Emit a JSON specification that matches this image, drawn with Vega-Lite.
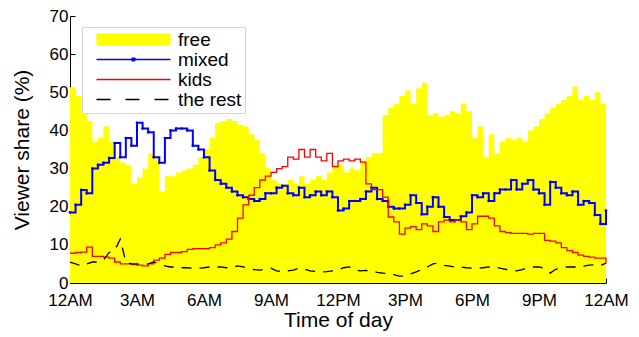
{
  "$schema": "https://vega.github.io/schema/vega-lite/v6.json",
  "width": 536,
  "height": 267,
  "autosize": "none",
  "padding": {"left": 70, "top": 16, "right": 33, "bottom": 54},
  "background": "white",
  "config": {
    "view": {"stroke": null},
    "font": "Liberation Sans",
    "axis": {
      "grid": false,
      "domainColor": "black",
      "domainWidth": 1,
      "tickColor": "black",
      "tickSize": -5,
      "labelColor": "black",
      "labelFont": "Liberation Sans",
      "labelFontSize": 17,
      "titleFont": "Liberation Sans",
      "titleFontSize": 21,
      "titleFontWeight": "normal",
      "titleColor": "black"
    },
    "legend": {
      "labelFont": "Liberation Sans",
      "labelFontSize": 19,
      "labelColor": "black"
    }
  },
  "data": {
    "values": [
      {"t": 0, "free": 51.3, "mixed": 18.5, "kids": 7.8, "rest": 5.5},
      {"t": 0.25, "free": 49, "mixed": 20.5, "kids": 8, "rest": 5},
      {"t": 0.5, "free": 45, "mixed": 24.4, "kids": 8.1, "rest": 4.5},
      {"t": 0.75, "free": 42.5, "mixed": 23.5, "kids": 9.4, "rest": 5},
      {"t": 1, "free": 37, "mixed": 30, "kids": 7, "rest": 5.5},
      {"t": 1.25, "free": 38, "mixed": 31, "kids": 7, "rest": 5.5},
      {"t": 1.5, "free": 41, "mixed": 31.5, "kids": 6.8, "rest": 6},
      {"t": 1.75, "free": 37, "mixed": 32.8, "kids": 6.5, "rest": 8},
      {"t": 2, "free": 33, "mixed": 36.7, "kids": 5.5, "rest": 8.5},
      {"t": 2.25, "free": 31.5, "mixed": 33, "kids": 5, "rest": 11.5},
      {"t": 2.5, "free": 31, "mixed": 38, "kids": 5, "rest": 5.5},
      {"t": 2.75, "free": 26, "mixed": 36, "kids": 4.8, "rest": 5},
      {"t": 3, "free": 27.5, "mixed": 42, "kids": 4.7, "rest": 5},
      {"t": 3.25, "free": 30, "mixed": 40.5, "kids": 4.5, "rest": 4.8},
      {"t": 3.5, "free": 34, "mixed": 39.5, "kids": 5, "rest": 5},
      {"t": 3.75, "free": 33, "mixed": 33, "kids": 6, "rest": 5.5},
      {"t": 4, "free": 24, "mixed": 31.5, "kids": 6.5, "rest": 5},
      {"t": 4.25, "free": 28, "mixed": 38, "kids": 7.5, "rest": 4.5},
      {"t": 4.5, "free": 28, "mixed": 40, "kids": 8, "rest": 4.2},
      {"t": 4.75, "free": 29, "mixed": 40.5, "kids": 8, "rest": 4.2},
      {"t": 5, "free": 29.5, "mixed": 40.5, "kids": 8.2, "rest": 4},
      {"t": 5.25, "free": 30, "mixed": 40, "kids": 8.8, "rest": 4},
      {"t": 5.5, "free": 31, "mixed": 36, "kids": 9, "rest": 3.9},
      {"t": 5.75, "free": 33, "mixed": 35, "kids": 9, "rest": 3.9},
      {"t": 6, "free": 35, "mixed": 33, "kids": 9, "rest": 4},
      {"t": 6.25, "free": 38, "mixed": 29.5, "kids": 9.3, "rest": 4.2},
      {"t": 6.5, "free": 42, "mixed": 27, "kids": 10, "rest": 4.2},
      {"t": 6.75, "free": 42.5, "mixed": 26, "kids": 10.5, "rest": 4.2},
      {"t": 7, "free": 43, "mixed": 25, "kids": 11.5, "rest": 4},
      {"t": 7.25, "free": 42.5, "mixed": 24, "kids": 13.5, "rest": 4},
      {"t": 7.5, "free": 41.5, "mixed": 23, "kids": 17, "rest": 4.5},
      {"t": 7.75, "free": 41, "mixed": 22.5, "kids": 20.5, "rest": 4.2},
      {"t": 8, "free": 39, "mixed": 22, "kids": 23, "rest": 3.8},
      {"t": 8.25, "free": 37.5, "mixed": 21.5, "kids": 25, "rest": 3.5},
      {"t": 8.5, "free": 34, "mixed": 22, "kids": 27, "rest": 3.4},
      {"t": 8.75, "free": 30, "mixed": 23.5, "kids": 28, "rest": 3.6},
      {"t": 9, "free": 27, "mixed": 23.5, "kids": 29, "rest": 3.9},
      {"t": 9.25, "free": 26, "mixed": 25, "kids": 30, "rest": 3.2},
      {"t": 9.5, "free": 26, "mixed": 25.5, "kids": 30.5, "rest": 3},
      {"t": 9.75, "free": 27, "mixed": 23.5, "kids": 33, "rest": 3.2},
      {"t": 10, "free": 26, "mixed": 23, "kids": 32.5, "rest": 3.4},
      {"t": 10.25, "free": 28, "mixed": 25, "kids": 35, "rest": 3.9},
      {"t": 10.5, "free": 26, "mixed": 22.5, "kids": 33, "rest": 3.6},
      {"t": 10.75, "free": 27, "mixed": 23, "kids": 35, "rest": 3.2},
      {"t": 11, "free": 28, "mixed": 24, "kids": 33, "rest": 3},
      {"t": 11.25, "free": 27, "mixed": 23, "kids": 32, "rest": 2.9},
      {"t": 11.5, "free": 29, "mixed": 24, "kids": 34, "rest": 3},
      {"t": 11.75, "free": 31, "mixed": 22.5, "kids": 30.5, "rest": 3.2},
      {"t": 12, "free": 31, "mixed": 19, "kids": 32, "rest": 3.4},
      {"t": 12.25, "free": 29, "mixed": 19.5, "kids": 32.5, "rest": 4},
      {"t": 12.5, "free": 30, "mixed": 21.5, "kids": 32, "rest": 4.2},
      {"t": 12.75, "free": 29.5, "mixed": 21.5, "kids": 32.5, "rest": 3.4},
      {"t": 13, "free": 32, "mixed": 22, "kids": 31.7, "rest": 3.2},
      {"t": 13.25, "free": 33, "mixed": 24, "kids": 26, "rest": 3.3},
      {"t": 13.5, "free": 34, "mixed": 25, "kids": 24.5, "rest": 3.2},
      {"t": 13.75, "free": 34, "mixed": 22, "kids": 24.5, "rest": 2.8},
      {"t": 14, "free": 44, "mixed": 21.5, "kids": 22.5, "rest": 2.6},
      {"t": 14.25, "free": 46, "mixed": 20, "kids": 17.3, "rest": 2.4},
      {"t": 14.5, "free": 47, "mixed": 19.5, "kids": 16, "rest": 2.2},
      {"t": 14.75, "free": 49, "mixed": 19.5, "kids": 12.8, "rest": 1.8},
      {"t": 15, "free": 50.5, "mixed": 20.5, "kids": 14.4, "rest": 1.8},
      {"t": 15.25, "free": 47, "mixed": 23, "kids": 14.8, "rest": 2.4},
      {"t": 15.5, "free": 51, "mixed": 21, "kids": 14, "rest": 2.9},
      {"t": 15.75, "free": 52.5, "mixed": 18, "kids": 15.5, "rest": 3.5},
      {"t": 16, "free": 44, "mixed": 20, "kids": 15, "rest": 4.2},
      {"t": 16.25, "free": 44.5, "mixed": 22.5, "kids": 13.5, "rest": 5},
      {"t": 16.5, "free": 43.5, "mixed": 20, "kids": 16, "rest": 5.2},
      {"t": 16.75, "free": 44, "mixed": 17.3, "kids": 16.5, "rest": 4.6},
      {"t": 17, "free": 45, "mixed": 16.5, "kids": 16, "rest": 4.4},
      {"t": 17.25, "free": 44.5, "mixed": 16.5, "kids": 16.5, "rest": 4.2},
      {"t": 17.5, "free": 47, "mixed": 17.5, "kids": 16, "rest": 4.2},
      {"t": 17.75, "free": 45, "mixed": 18.5, "kids": 14, "rest": 4},
      {"t": 18, "free": 38, "mixed": 23, "kids": 15.5, "rest": 3.9},
      {"t": 18.25, "free": 41, "mixed": 22.5, "kids": 17.5, "rest": 3.9},
      {"t": 18.5, "free": 33, "mixed": 23.5, "kids": 17.5, "rest": 4},
      {"t": 18.75, "free": 39, "mixed": 21.5, "kids": 17, "rest": 4.2},
      {"t": 19, "free": 34, "mixed": 23.5, "kids": 15, "rest": 4.2},
      {"t": 19.25, "free": 37, "mixed": 24.5, "kids": 13.5, "rest": 3.9},
      {"t": 19.5, "free": 38, "mixed": 24.5, "kids": 13.2, "rest": 3.6},
      {"t": 19.75, "free": 37.5, "mixed": 27, "kids": 13, "rest": 3.4},
      {"t": 20, "free": 38, "mixed": 24.5, "kids": 13, "rest": 3.2},
      {"t": 20.25, "free": 37, "mixed": 26, "kids": 13, "rest": 3.5},
      {"t": 20.5, "free": 40, "mixed": 27, "kids": 12.8, "rest": 4},
      {"t": 20.75, "free": 41, "mixed": 24.5, "kids": 13, "rest": 4.2},
      {"t": 21, "free": 43, "mixed": 23.5, "kids": 13, "rest": 4.2},
      {"t": 21.25, "free": 44.5, "mixed": 20.5, "kids": 11.2, "rest": 3.8},
      {"t": 21.5, "free": 46, "mixed": 26.5, "kids": 11, "rest": 2.6},
      {"t": 21.75, "free": 47, "mixed": 25, "kids": 10.5, "rest": 3.6},
      {"t": 22, "free": 48, "mixed": 23.5, "kids": 9.3, "rest": 3.9},
      {"t": 22.25, "free": 49, "mixed": 23, "kids": 8.5, "rest": 4.2},
      {"t": 22.5, "free": 51.5, "mixed": 24, "kids": 8, "rest": 4.2},
      {"t": 22.75, "free": 48, "mixed": 20.5, "kids": 7.3, "rest": 4.2},
      {"t": 23, "free": 49, "mixed": 21.5, "kids": 7, "rest": 4.4},
      {"t": 23.25, "free": 48, "mixed": 21, "kids": 6.8, "rest": 4.7},
      {"t": 23.5, "free": 50, "mixed": 17.8, "kids": 6.5, "rest": 4.8},
      {"t": 23.75, "free": 47, "mixed": 15.5, "kids": 6.5, "rest": 4.6},
      {"t": 24, "free": 37, "mixed": 19, "kids": 5.2, "rest": 5.2}
    ]
  },
  "encoding": {
    "x": {
      "field": "t",
      "type": "quantitative",
      "scale": {"domain": [0, 24], "nice": false, "zero": false},
      "axis": {
        "title": "Time of day",
        "values": [0, 3, 6, 9, 12, 15, 18, 21, 24],
        "labelExpr": "['12AM','3AM','6AM','9AM','12PM','3PM','6PM','9PM','12AM'][round(datum.value/3)]",
        "labelFlush": false,
        "labelOverlap": false,
        "labelPadding": 14,
        "titlePadding": 1
      }
    },
    "y": {
      "field": "v",
      "type": "quantitative",
      "scale": {"domain": [0, 70], "nice": false},
      "axis": {
        "title": "Viewer share (%)",
        "values": [0, 10, 20, 30, 40, 50, 60, 70],
        "labelPadding": 7,
        "titlePadding": 17
      }
    },
    "color": {
      "field": "series",
      "type": "nominal",
      "scale": {
        "domain": ["free", "mixed", "kids", "the rest"],
        "range": ["#ffff00", "#0000ff", "#ff0000", "#000000"]
      },
      "legend": {
        "title": null,
        "orient": "none",
        "legendX": 12,
        "legendY": 11,
        "padding": 3,
        "strokeColor": "#d4d4d4",
        "fillColor": "white",
        "symbolSize": 100,
        "labelOffset": 74,
        "rowPadding": 0,
        "encode": {
          "symbols": {
            "update": {
              "shape": {"signal": "datum.value === 'free' ? 'M0.4,-1.2H15.2V1.2H0.4Z' : datum.value === 'mixed' ? 'M0.4,0H15.2M7.55,-0.25H8.05V0.25H7.55Z' : 'M0.4,0H15.2'"},
              "fill": {"signal": "datum.value === 'free' ? '#ffff00' : datum.value === 'mixed' ? '#0000ff' : 'transparent'"},
              "stroke": {"signal": "datum.value === 'free' ? '#ffff00' : datum.value === 'mixed' ? '#0000ff' : datum.value === 'kids' ? '#ff0000' : '#000000'"},
              "strokeWidth": {"signal": "datum.value === 'mixed' ? 1.5 : datum.value === 'free' ? 0 : 1.4"},
              "strokeDash": {"signal": "datum.value === 'the rest' ? [14, 15] : [1, 0]"},
              "opacity": {"value": 1}
            }
          }
        }
      }
    }
  },
  "layer": [
    {
      "transform": [{"fold": ["free"], "as": ["series", "v"]}],
      "mark": {"type": "area", "interpolate": "step-after", "opacity": 1}
    },
    {
      "transform": [{"fold": ["mixed"], "as": ["series", "v"]}],
      "mark": {"type": "line", "interpolate": "step-after", "strokeWidth": 2, "point": {"filled": true, "size": 7, "color": "#0000ff"}}
    },
    {
      "transform": [{"fold": ["kids"], "as": ["series", "v"]}],
      "mark": {"type": "line", "interpolate": "step-after", "strokeWidth": 1.3}
    },
    {
      "transform": [
        {"fold": ["rest"], "as": ["key", "v"]},
        {"calculate": "'the rest'", "as": "series"}
      ],
      "mark": {"type": "line", "strokeWidth": 1.3, "strokeDash": [10, 8]}
    }
  ]
}
